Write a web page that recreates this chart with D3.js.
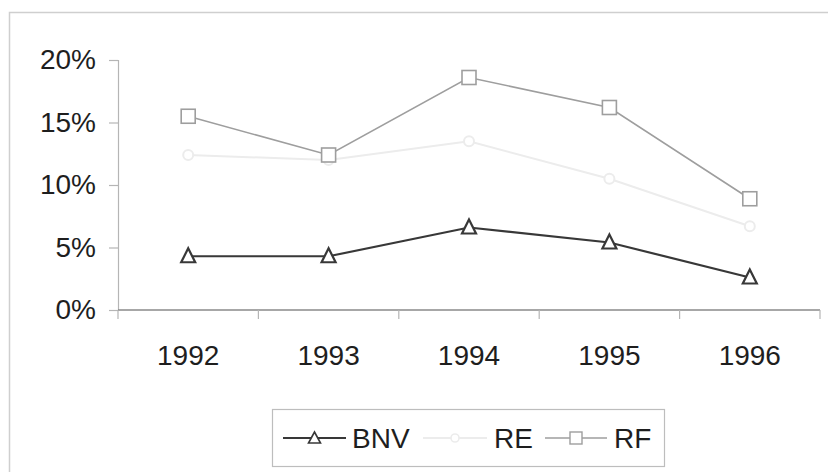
<!DOCTYPE html>
<html>
<head>
<meta charset="utf-8">
<script src="https://cdn.jsdelivr.net/npm/d3@7/dist/d3.min.js"></script>
<style>
  html, body { margin: 0; padding: 0; background: #fff; }
  svg { display: block; font-family: "Liberation Sans", Arial, sans-serif; }
</style>
</head>
<body>
<svg id="chart" width="828" height="472"></svg>
<script>
// Annual rates per series, 1992–1996
const years = ["1992", "1993", "1994", "1995", "1996"];
const bnv = [0.043, 0.043, 0.066, 0.054, 0.026];
const re  = [0.124, 0.120, 0.135, 0.105, 0.067];
const rf  = [0.155, 0.124, 0.186, 0.162, 0.089];
const yTicks = [0, 0.05, 0.10, 0.15, 0.20];
const seriesNames = ["BNV", "RE", "RF"];

const series = [
  { name: seriesNames[0], values: bnv, color: "#383838", width: 2.2, marker: "triangle" },
  { name: seriesNames[1], values: re,  color: "#ececec", width: 2,   marker: "circle" },
  { name: seriesNames[2], values: rf,  color: "#9e9e9e", width: 1.6, marker: "square" }
];

const svg = d3.select("#chart");

// outer chart frame
svg.append("rect")
  .attr("x", 9.5).attr("y", 12.5)
  .attr("width", 840).attr("height", 480)
  .attr("fill", "none").attr("stroke", "#cfcfcf").attr("stroke-width", 1.5);

const plot = { left: 118, right: 820, top: 60, bottom: 310 };

const x = d3.scaleBand().domain(years).range([plot.left, plot.right]);
const y = d3.scaleLinear().domain([0, 0.20]).range([plot.bottom, plot.top]);

// y axis
const yAxis = svg.append("g")
  .attr("transform", `translate(${plot.left},0)`)
  .call(d3.axisLeft(y).tickValues(yTicks).tickFormat(d3.format(".0%")).tickSize(9).tickPadding(13));
yAxis.select(".domain").attr("stroke", "#b5b5b5").attr("stroke-width", 1.2);
yAxis.selectAll(".tick line").attr("stroke", "#b5b5b5").attr("stroke-width", 1.2);
yAxis.selectAll(".tick text")
  .attr("fill", "#1e1e1e").style("font-size", "28px")
  .style("font-family", "'Liberation Sans', Arial, sans-serif");

// x axis with ticks at category boundaries
const xAxis = svg.append("g").attr("transform", `translate(0,${plot.bottom})`);
xAxis.append("line")
  .attr("x1", plot.left).attr("x2", plot.right)
  .attr("stroke", "#8a8a8a").attr("stroke-width", 1.4);
const bounds = years.map(d => x(d)).concat([x(years[years.length - 1]) + x.bandwidth()]);
xAxis.selectAll("line.tk").data(bounds).join("line")
  .attr("class", "tk")
  .attr("x1", d => d).attr("x2", d => d)
  .attr("y1", 0).attr("y2", 9)
  .attr("stroke", "#b5b5b5").attr("stroke-width", 1.2);
xAxis.selectAll("text").data(years).join("text")
  .attr("x", d => x(d) + x.bandwidth() / 2)
  .attr("y", 55)
  .attr("text-anchor", "middle")
  .attr("fill", "#1e1e1e")
  .style("font-size", "28px")
  .text(d => d);

const cx = d => x(d) + x.bandwidth() / 2;

function drawMarker(g, type, color, px, py, sw) {
  if (type === "triangle") {
    g.append("path")
      .attr("d", `M${px},${py - 8} L${px + 7},${py + 6} L${px - 7},${py + 6} Z`)
      .attr("fill", "#fff").attr("stroke", color).attr("stroke-width", sw);
  } else if (type === "square") {
    g.append("rect")
      .attr("x", px - 7).attr("y", py - 7).attr("width", 14).attr("height", 14)
      .attr("fill", "#fff").attr("stroke", color).attr("stroke-width", sw);
  } else {
    g.append("circle")
      .attr("cx", px).attr("cy", py).attr("r", 5)
      .attr("fill", "#fff").attr("stroke", color).attr("stroke-width", sw);
  }
}

const line = d3.line().x((d, i) => cx(years[i])).y(d => y(d));

series.forEach(s => {
  const g = svg.append("g");
  g.append("path")
    .datum(s.values)
    .attr("d", line)
    .attr("fill", "none")
    .attr("stroke", s.color)
    .attr("stroke-width", s.width);
  s.values.forEach((v, i) => drawMarker(g, s.marker, s.color, cx(years[i]), y(v), s.width));
});

// legend
const legend = svg.append("g");
legend.append("rect")
  .attr("x", 272.5).attr("y", 409.5).attr("width", 392).attr("height", 57)
  .attr("fill", "#fff").attr("stroke", "#bdbdbd").attr("stroke-width", 1.2);

const legendItems = [
  { s: series[0], x1: 283, x2: 346, tx: 352 },
  { s: series[1], x1: 423, x2: 487, tx: 494 },
  { s: series[2], x1: 545, x2: 607, tx: 614 }
];
const ly = 438;
legendItems.forEach(it => {
  legend.append("line")
    .attr("x1", it.x1).attr("x2", it.x2).attr("y1", ly).attr("y2", ly)
    .attr("stroke", it.s.color).attr("stroke-width", it.s.width);
  const mx = (it.x1 + it.x2) / 2;
  if (it.s.marker === "triangle") {
    legend.append("path")
      .attr("d", `M${mx},${ly - 6} L${mx + 6},${ly + 5} L${mx - 6},${ly + 5} Z`)
      .attr("fill", "#fff").attr("stroke", it.s.color).attr("stroke-width", 1.6);
  } else if (it.s.marker === "square") {
    legend.append("rect")
      .attr("x", mx - 6).attr("y", ly - 6).attr("width", 12).attr("height", 12)
      .attr("fill", "#fff").attr("stroke", it.s.color).attr("stroke-width", 1.4);
  } else {
    legend.append("circle")
      .attr("cx", mx).attr("cy", ly).attr("r", 4)
      .attr("fill", "#fff").attr("stroke", it.s.color).attr("stroke-width", 1.6);
  }
  legend.append("text")
    .attr("x", it.tx).attr("y", ly + 10)
    .attr("fill", "#1e1e1e")
    .style("font-size", "28px")
    .text(it.s.name);
});
</script>
</body>
</html>
